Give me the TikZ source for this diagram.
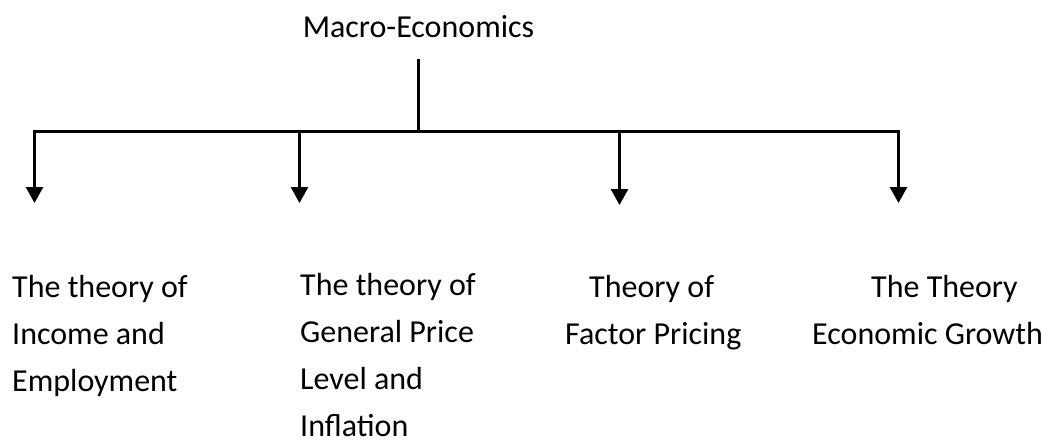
\documentclass[tikz,border=0pt]{standalone}
\usepackage{fontspec}
\setmainfont{Carlito}
\usetikzlibrary{arrows.meta}
\begin{document}
\begin{tikzpicture}[x=1pt,y=-1pt,
  conn/.style={line width=2.8pt,line join=miter},
  arr/.style={conn,-{Triangle[width=17pt,length=16pt]}},
  lbl/.style={inner sep=0pt,anchor=base west,align=left,font=\fontsize{32}{47}\selectfont}]
\useasboundingbox (0,0) rectangle (1054,439);
\node[inner sep=0pt,anchor=base,font=\fontsize{32}{47}\selectfont] (title) at (418.5,37) {Macro-Economics};
\coordinate (hub) at (418.5,131.5);
\coordinate (a1) at (34.5,203);
\coordinate (a2) at (299.5,203);
\coordinate (a3) at (619.5,205);
\coordinate (a4) at (898.5,203);
% anchor base of a multi-line node is the baseline of its last line
\node[lbl] (t1) at (12,391) {The theory of\\Income and\\Employment};
\node[lbl] (t2) at (300,436) {The theory of\\General Price\\Level and\\Inflation};
\node[lbl] (t3) at (565,344) {\hspace*{24pt}Theory of\\Factor Pricing};
\node[lbl] (t4) at (812,344) {\hspace*{59pt}The Theory\\Economic Growth};
\draw[conn,shorten <=22pt] (title.south) -- (hub);
\draw[arr] (hub) -| (a1);
\draw[arr] (hub) -| (a2);
\draw[arr] (hub) -| (a3);
\draw[arr] (hub) -| (a4);
\end{tikzpicture}
\end{document}
